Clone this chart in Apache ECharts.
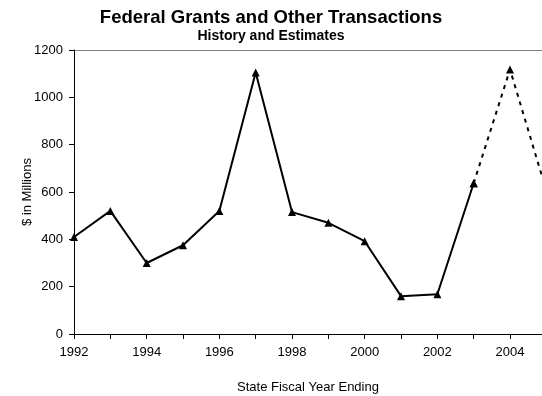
<!DOCTYPE html>
<html>
<head>
<meta charset="utf-8">
<script src="https://cdn.jsdelivr.net/npm/echarts@6/dist/echarts.min.js"></script>
<style>html,body{margin:0;padding:0;background:#fff}#c{width:542px;height:396px}</style>
</head>
<body>
<div id="c"></div>
<script>
var histYears = [1992, 1993, 1994, 1995, 1996, 1997, 1998, 1999, 2000, 2001, 2002, 2003];
var histValues = [410, 520, 300, 375, 520, 1105, 515, 470, 392, 160, 168, 637];
var estYears = [2003, 2004, 2005];
var estValues = [637, 1118, 605];
var titleText = 'Federal Grants and Other Transactions';
var subtitleText = 'History and Estimates';
var xName = 'State Fiscal Year Ending';
var yName = '$ in Millions';

function pairs(xs, ys) { return xs.map(function (x, i) { return [x, ys[i]]; }); }

var chart = echarts.init(document.getElementById('c'), null, {renderer: 'canvas'});
var font = 'Arial, "Liberation Sans", sans-serif';
chart.setOption({
  animation: false,
  backgroundColor: '#fff',
  title: {
    text: titleText, subtext: subtitleText, left: 'center', top: 3, itemGap: 2,
    textStyle: {fontFamily: font, fontSize: 18.5, fontWeight: 'bold', color: '#000'},
    subtextStyle: {fontFamily: font, fontSize: 14, fontWeight: 'bold', color: '#000'}
  },
  grid: {left: 74, right: 0, top: 50, bottom: 62, containLabel: false, outerBoundsMode: 'none'},
  xAxis: {
    type: 'value', min: 1992, max: 2004.88, interval: 1,
    name: xName, nameLocation: 'middle', nameGap: 47, nameMoveOverlap: false,
    nameTextStyle: {fontFamily: font, fontSize: 13, color: '#000'},
    axisLine: {show: true, lineStyle: {color: '#000', width: 1}},
    axisTick: {show: true, length: 5, lineStyle: {color: '#000'}},
    axisLabel: {
      fontFamily: font, fontSize: 13, color: '#000', margin: 12,
      showMaxLabel: false,
      formatter: function (v) { return (Math.abs(v - Math.round(v)) < 1e-6 && Math.round(v) % 2 === 0) ? String(Math.round(v)) : ''; }
    },
    splitLine: {show: false}
  },
  yAxis: {
    type: 'value', min: 0, max: 1200, interval: 200,
    name: yName, nameLocation: 'middle', nameGap: 40, nameRotate: 90, nameMoveOverlap: false,
    nameTextStyle: {fontFamily: font, fontSize: 13, color: '#000'},
    axisLine: {show: true, lineStyle: {color: '#000', width: 1}},
    axisTick: {show: true, length: 5, lineStyle: {color: '#000'}},
    axisLabel: {fontFamily: font, fontSize: 13, color: '#000', margin: 11, formatter: function (v) { return String(v); }},
    splitLine: {show: true, lineStyle: {color: ['transparent', 'transparent', 'transparent', 'transparent', 'transparent', 'transparent', '#808080'], width: 1}}
  },
  series: [
    {
      type: 'line', data: pairs(histYears, histValues), symbol: 'triangle', symbolSize: 8,
      lineStyle: {color: '#000', width: 2}, itemStyle: {color: '#000'}, z: 3
    },
    {
      type: 'line', data: pairs(estYears, estValues), symbol: 'triangle', symbolSize: 8,
      lineStyle: {color: '#000', width: 2, type: [4, 5]}, itemStyle: {color: '#000'}, z: 2
    }
  ]
});
</script>
</body>
</html>
